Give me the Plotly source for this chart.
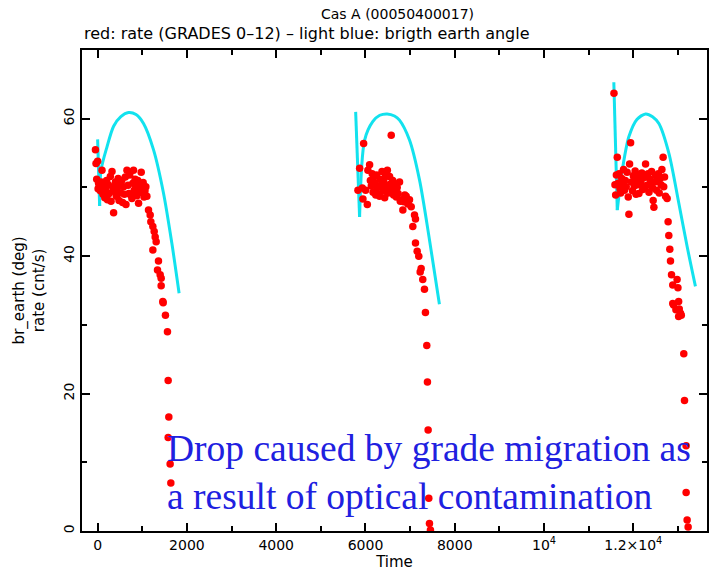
import plotly.graph_objects as go

# Count rate (GRADES 0-12) per orbit: time (s) and rate (cnt/s)
time_1 = [-49, 0, -36, 22, -20, 10, 40, 60, 80, 98, 120, 140, 160, 180, 200, 220, 240, 260, 284, 300,
          322, 340, 358, 380, 400, 420, 440, 460, 480, 500, 520, 540, 560, 580, 600, 620, 634, 657, 680, 700,
          720, 740, 768, 790, 804, 820, 840, 860, 880, 900, 917, 940, 960, 976, 1000, 1020, 1040, 1060, 1080, 1103,
          1140, 1177, 1192, 1237, 1267, 1289, 1311, 1237, 1363, 1341, 1401, 1423, 1423, 1460, 1468, 1519, 1564,
          1580, 1595, 1580, 1624, 1640]
rate_1 = [55.5, 53.8, 53.5, 50.6, 51.2, 49.8, 50.3, 49.5, 50.8, 52.5, 49.0, 50.2, 48.5, 49.7, 51.0, 48.2, 50.4, 49.1, 51.6, 48.0,
          52.3, 50.0, 46.3, 49.4, 50.8, 48.7, 49.9, 51.3, 48.1, 50.5, 49.2, 51.0, 47.8, 50.1, 49.0, 51.5, 47.5, 52.5, 50.3, 49.1,
          51.8, 48.9, 48.4, 50.6, 52.5, 49.6, 51.2, 50.0, 48.8, 51.0, 47.7, 50.2, 49.3, 52.2, 49.8, 50.7, 48.6, 49.5, 50.1, 48.7,
          46.7, 46.0, 45.0, 44.3, 43.6, 42.8, 42.1, 40.9, 39.3, 38.0, 37.3, 36.8, 35.7, 33.4, 33.2, 31.4, 29.0,
          21.9, 16.6, 13.6, 9.75, 7.0]

time_2 = [5831, 5869, 5929, 5943, 5958, 6003, 6041, 6054, 6092, 6110, 6130, 6150, 6170, 6190, 6210, 6230, 6250, 6270, 6290, 6316,
          6330, 6350, 6370, 6390, 6410, 6430, 6450, 6470, 6490, 6510, 6540, 6560, 6577, 6590, 6610, 6630, 6650, 6670, 6690, 6710,
          6730, 6763, 6780, 6800, 6837, 6860, 6880, 6912, 6950, 6986, 7024, 7060, 7098, 7120, 7120, 7158, 7194, 7225, 7247, 7283,
          7321, 7343, 7373, 7388, 7403, 7418, 7433, 7455]
rate_2 = [49.6, 52.8, 49.9, 48.3, 56.4, 49.6, 47.5, 52.5, 53.3, 51.0, 50.2, 52.0, 49.3, 51.5, 50.6, 48.9, 51.8, 50.0, 49.0, 48.7,
          51.2, 50.4, 52.3, 49.5, 50.9, 48.5, 51.6, 50.1, 52.5, 49.2, 51.6, 50.5, 57.6, 49.8, 51.0, 48.9, 50.3, 49.4, 48.6, 50.0,
          49.1, 50.8, 48.0, 48.2, 46.7, 47.9, 48.9, 48.7, 47.6, 48.2, 47.2, 44.3, 46.0, 45.4, 41.9, 40.7, 40.0, 37.7, 38.2, 36.6,
          35.2, 31.8, 27.0, 21.7, 14.7, 4.76, 1.1, 0.15]

time_3 = [11566, 11588, 11604, 11620, 11640, 11660, 11680, 11700, 11716, 11740, 11760, 11780, 11800, 11820, 11840, 11860, 11886,
          11901, 11916, 11939, 11960, 11980, 12000, 12020, 12040, 12060, 12080, 12100, 12125, 12150, 12170, 12190, 12210, 12230,
          12250, 12274, 12290, 12310, 12330, 12350, 12370, 12390, 12410, 12430, 12444, 12460, 12480, 12500, 12520, 12540, 12560,
          12580, 12600, 12620, 12640, 12667, 12680, 12699, 12721, 12757, 12779, 12794, 12817, 12832, 12855, 12883, 12980, 12999,
          13014, 12902, 12954, 13029, 13074, 13014, 12883, 13056, 13130, 13146, 13182, 13182, 13205, 13227]
rate_3 = [63.7, 50.4, 48.9, 51.8, 54.4, 50.6, 52.0, 49.8, 49.2, 51.3, 50.5, 52.6, 49.6, 51.0, 50.1, 52.2, 48.6,
          46.1, 53.4, 56.5, 50.8, 49.5, 51.7, 50.2, 52.4, 49.0, 51.1, 50.4, 49.1, 51.9, 50.7, 52.1, 49.7, 51.4,
          50.0, 53.4, 51.6, 50.3, 52.0, 49.3, 51.2, 50.6, 52.3, 49.9, 48.1, 47.1, 50.8, 51.7, 49.6, 50.9, 52.0,
          49.2, 51.3, 50.4, 52.6, 54.4, 50.1, 51.5, 48.7, 48.4, 45.0, 43.0, 41.0, 39.3, 37.3, 35.8, 36.6, 35.4,
          33.4, 32.9, 32.2, 32.3, 31.4, 31.2, 33.1, 31.7, 25.8, 19.0, 12.4, 5.6, 1.6, 0.6]

# Bright earth angle (deg) per orbit
earth_t1 = [0, 45, 76, 210, 358, 520, 693, 860, 1028, 1251, 1475, 1662, 1825]
earth_a1 = [57.0, 47.3, 52.5, 55.9, 58.9, 60.3, 60.9, 60.6, 59.3, 55.5, 49.2, 41.9, 34.6]
earth_t2 = [5780, 5868, 5981, 6166, 6320, 6487, 6650, 6762, 6986, 7210, 7433, 7656]
earth_a2 = [61.0, 45.7, 56.9, 59.6, 60.5, 60.7, 60.4, 59.8, 56.9, 51.1, 42.4, 33.0]
earth_t3 = [11563, 11640, 11752, 11901, 12080, 12274, 12430, 12572, 12795, 13019, 13205, 13391]
earth_a3 = [65.3, 46.7, 52.5, 57.4, 59.9, 60.7, 60.3, 59.3, 55.0, 47.7, 41.4, 35.6]

x_tick_vals = [0, 2000, 4000, 6000, 8000, 10000, 12000]
x_tick_text = ["0", "2000", "4000", "6000", "8000", "10<sup>4</sup>", "1.2×10<sup>4</sup>"]
y_tick_vals = [0, 20, 40, 60]

CYAN = "#12e2ee"
RED = "#ff0000"

fig = go.Figure()

for et, ea in [(earth_t1, earth_a1), (earth_t2, earth_a2), (earth_t3, earth_a3)]:
    # sharp drop at orbit start, then smooth arch
    fig.add_trace(go.Scatter(x=et[:2], y=ea[:2], mode="lines",
                             line=dict(color=CYAN, width=3), showlegend=False))
    fig.add_trace(go.Scatter(x=et[1:], y=ea[1:], mode="lines",
                             line=dict(color=CYAN, width=3, shape="spline", smoothing=0.8),
                             showlegend=False))

for tt, rr in [(time_1, rate_1), (time_2, rate_2), (time_3, rate_3)]:
    fig.add_trace(go.Scatter(x=tt, y=rr, mode="markers",
                             marker=dict(color=RED, size=7.5, line=dict(width=0)),
                             showlegend=False))

tick_font = dict(family="DejaVu Sans, sans-serif", size=14, color="black")
axis_font = dict(family="DejaVu Sans, sans-serif", size=15, color="black")

fig.update_xaxes(range=[-350, 13650], tickvals=x_tick_vals, ticktext=x_tick_text,
                 ticks="inside", ticklen=8, tickwidth=2, tickcolor="black",
                 minor=dict(ticks="inside", ticklen=5, tickwidth=2, tickcolor="black", dtick=1000, tick0=0),
                 showline=True, linewidth=2, linecolor="black", mirror="ticks",
                 showgrid=False, zeroline=False, tickfont=tick_font,
                 title=dict(text="Time", font=axis_font, standoff=4))
fig.update_yaxes(range=[0, 70], tickvals=y_tick_vals,
                 ticks="inside", ticklen=8, tickwidth=2, tickcolor="black",
                 minor=dict(ticks="inside", ticklen=5, tickwidth=2, tickcolor="black", dtick=10, tick0=0),
                 showline=True, linewidth=2, linecolor="black", mirror="ticks",
                 showgrid=False, zeroline=False, tickfont=tick_font, tickangle=-90)

title_font = dict(family="DejaVu Sans, sans-serif", size=14, color="black")
subtitle_font = dict(family="DejaVu Sans, sans-serif", size=16, color="black")
note_font = dict(family="Liberation Serif, Times New Roman, serif", size=37.5, color="#2020e0")

fig.update_layout(
    width=712, height=571,
    margin=dict(l=82, r=3, t=50, b=40),
    plot_bgcolor="white", paper_bgcolor="white",
    annotations=[
        dict(text="Cas A (00050400017)", xref="paper", yref="paper", x=0.505, y=1.075,
             xanchor="center", yanchor="middle", showarrow=False, font=title_font),
        dict(text="red: rate (GRADES 0\u201312) \u2013 light blue: brigth earth angle",
             xref="paper", yref="paper", x=0.0, y=1.034,
             xanchor="left", yanchor="middle", showarrow=False, font=subtitle_font),
        dict(text="br_earth (deg)<br>rate (cnt/s)", xref="paper", yref="paper",
             x=-0.085, y=0.5, xanchor="center", yanchor="middle", textangle=-90,
             showarrow=False, font=axis_font),
        dict(text="Drop caused by grade migration as", xref="paper", yref="paper",
             x=0.132, y=0.172, xanchor="left", yanchor="middle", showarrow=False, font=note_font),
        dict(text="a result of optical contamination", xref="paper", yref="paper",
             x=0.132, y=0.072, xanchor="left", yanchor="middle", showarrow=False, font=note_font),
    ],
)

fig.write_html("out.html")
